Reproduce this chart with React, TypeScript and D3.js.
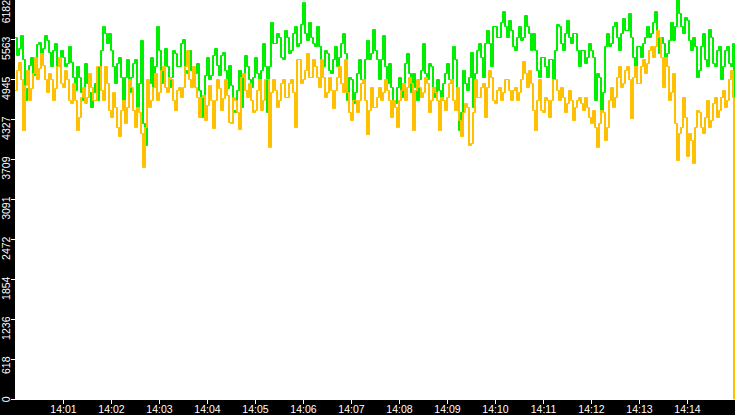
import { useEffect, useRef } from 'react';
import * as d3 from 'd3';

const WIDTH = 735;
const HEIGHT = 415;

// time axis: 14:00 - 14:15, one reading every 2.5 s, last reading just before the end
const START = new Date(2024, 0, 1, 14, 0, 0);
const END = new Date(2024, 0, 1, 14, 15, 0);
const SAMPLE_MS = 2500;
const LAST_SAMPLE_SECOND = 899;

const greenValues = [
    5587, 5324, 5432, 5633, 5247, 4628, 4814, 5169, 5293, 5015, 5169, 5479, 5525, 5247, 5432, 5633, 5556, 5370, 5139, 5401,
    5509, 5139, 5247, 5401, 5293, 5139, 5200, 5448, 5216, 4984, 4783, 5139, 4984, 4737, 4628, 5200, 4891, 4737, 4520, 4737,
    4891, 4628, 5139, 5401, 5772, 5664, 5509, 5664, 5401, 5139, 4891, 5200, 5293, 4984, 4582, 4984, 5247, 4737, 4984, 5200,
    5247, 4474, 4891, 5556, 4273, 3933, 4628, 4891, 5293, 4829, 5139, 5757, 5401, 4891, 5092, 5432, 5139, 4829, 4984, 5401,
    5355, 5139, 5139, 5509, 5571, 5092, 5046, 5401, 5092, 4938, 5046, 5200, 4783, 4366, 4706, 5015, 5278, 4938, 5015, 5324,
    5432, 5169, 5015, 5324, 5370, 5092, 4814, 5169, 4860, 4474, 4428, 4783, 5092, 4520, 4984, 5324, 5139, 4938, 4829, 4984,
    5278, 5046, 4938, 5092, 5509, 5139, 4428, 5139, 5819, 5509, 5509, 5664, 5602, 5293, 5247, 5710, 5602, 5355, 5401, 5664,
    5757, 5448, 5509, 5788, 6128, 5664, 5556, 5819, 5602, 5509, 5448, 5757, 5448, 5200, 5139, 5401, 5355, 5092, 5046, 5247,
    5448, 5139, 5293, 5509, 5664, 5355, 4628, 4984, 4938, 4582, 4737, 5046, 5247, 4938, 4891, 5247, 5556, 5247, 5355, 5726,
    5401, 5247, 4938, 5247, 5633, 5139, 4891, 5200, 4829, 4628, 4582, 4829, 4984, 4675, 4891, 5200, 5355, 5046, 4737, 5046,
    4829, 4628, 4938, 5092, 5509, 5046, 4938, 5200, 5139, 4829, 4675, 4938, 4783, 4628, 4891, 5046, 5200, 4938, 4891, 5463,
    5247, 4628, 4165, 4428, 5092, 4891, 4783, 4984, 5370, 4520, 5046, 5401, 5509, 5293, 4984, 5509, 5710, 5509, 5139, 5757,
    5757, 5602, 5602, 5819, 5989, 5757, 5602, 5865, 5710, 5448, 5401, 5602, 5757, 5556, 5602, 5927, 5757, 5664, 5401, 5664,
    5401, 5092, 4984, 5293, 5293, 5139, 4984, 5247, 5247, 4938, 5401, 5788, 5757, 5509, 5401, 5664, 5865, 5602, 5509, 5664,
    5664, 5401, 5139, 5401, 5401, 5200, 5293, 5509, 5401, 5293, 4628, 5046, 4984, 4474, 4737, 5448, 5664, 5448, 5509, 5757,
    5819, 5602, 5401, 5664, 5896, 5710, 5710, 5973, 5602, 5293, 5139, 5448, 5448, 5293, 5509, 5602, 5757, 5602, 5664, 5819,
    5989, 5664, 5355, 5602, 5509, 5247, 5355, 5556, 5819, 5556, 5757, 6182, 5973, 5757, 5664, 5911, 5865, 5556, 5401, 5602,
    5448, 4984, 5092, 5448, 5664, 5247, 5139, 5726, 5602, 5200, 5139, 5401, 5448, 4938, 5139, 5401, 5448, 5200, 5139, 5509,
    2650,
];

const orangeValues = [
    4783, 5092, 5216, 4938, 4165, 4860, 5092, 4628, 4814, 5046, 5293, 4938, 5123, 5355, 5169, 4938, 4737, 5046, 4938, 4628,
    4814, 5139, 5293, 4891, 4829, 5092, 4938, 4628, 4582, 4891, 4628, 4165, 4366, 4675, 4829, 4582, 4675, 5046, 4829, 4628,
    4628, 5139, 5139, 4783, 4628, 5139, 4891, 4474, 4366, 4737, 4520, 4211, 4057, 4474, 4628, 4273, 4520, 4938, 4829, 4474,
    4211, 4520, 4428, 4118, 3578, 4211, 4938, 4520, 4628, 4829, 5046, 4628, 4737, 5092, 5139, 4829, 4737, 4984, 4938, 4628,
    4474, 4783, 4829, 4675, 4829, 5139, 5401, 4938, 4829, 5139, 4829, 4675, 4366, 4675, 4706, 4319, 4551, 4860, 4628, 4196,
    4628, 4938, 4814, 4474, 4659, 4938, 4706, 4288, 4273, 4675, 4628, 4428, 4180, 4984, 5046, 4783, 4675, 4891, 4628, 4428,
    4474, 4783, 4938, 4474, 4628, 4938, 4938, 3902, 4737, 4938, 4783, 4520, 4628, 4891, 4938, 4675, 4675, 4891, 4938, 4737,
    4211, 5247, 5247, 4891, 4938, 5092, 5355, 4984, 4984, 5247, 5139, 4984, 4829, 5247, 4984, 4675, 4737, 4984, 4783, 4505,
    4783, 4984, 5139, 4891, 4737, 5247, 4737, 4428, 4319, 4628, 4628, 4428, 4628, 4891, 4938, 4628, 4088, 4474, 4829, 4520,
    4520, 4675, 4829, 4628, 4737, 4938, 4783, 4628, 4366, 4628, 4520, 4211, 4628, 4783, 4891, 4628, 4829, 4984, 4891, 4165,
    4783, 4938, 4829, 4675, 4737, 4984, 4891, 4428, 4628, 4829, 4737, 4628, 4165, 4675, 4628, 4474, 4675, 4891, 4938, 4628,
    4474, 4829, 4319, 4057, 4428, 4582, 4520, 3933, 3964, 4428, 4938, 4675, 4675, 4829, 4891, 4366, 4829, 5092, 4984, 4628,
    4582, 4783, 4829, 4628, 4737, 4938, 4938, 4783, 4628, 4783, 4829, 4628, 4737, 4938, 5231, 5046, 4829, 5092, 4891, 4474,
    4165, 4628, 4938, 4474, 4428, 4675, 4628, 4366, 4628, 4938, 4938, 4783, 4628, 4829, 4675, 4428, 4582, 4783, 4628, 4319,
    4520, 4628, 4675, 4582, 4474, 4675, 4520, 4366, 4273, 4474, 4211, 3902, 4273, 4474, 4428, 4010, 4211, 4628, 4829, 4520,
    4675, 4984, 5139, 4829, 4891, 5092, 5139, 4938, 4350, 4984, 5139, 4891, 4891, 5139, 5247, 5046, 5200, 5401, 5448, 5293,
    5448, 5710, 5602, 5293, 4829, 5293, 5139, 4628, 4737, 5046, 4273, 3701, 4118, 4211, 4675, 4366, 3748, 4118, 4010, 3655,
    4211, 4474, 4428, 4211, 4118, 4366, 4628, 4211, 4319, 4582, 4675, 4366, 4474, 4675, 4783, 4520, 4628, 4938, 5092, 4675,
    0,
];

const yTickLabels = ['0', '618', '1236', '1854', '2472', '3091', '3709', '4327', '4945', '5563', '6182'];
const xTickLabels = ['14:01', '14:02', '14:03', '14:04', '14:05', '14:06', '14:07', '14:08', '14:09', '14:10', '14:11', '14:12', '14:13', '14:14'];

const GREEN = '#00ee00';
const ORANGE = '#ffc000';
const FONT = "'Liberation Sans', Arial, sans-serif";

function toPoints(values: number[]) {
    return values.map((v, i) => ({
        t: i === values.length - 1
            ? new Date(START.getTime() + LAST_SAMPLE_SECOND * 1000)
            : new Date(START.getTime() + i * SAMPLE_MS),
        v,
    }));
}

function TrafficChart() {
    const svgRef = useRef<SVGSVGElement>(null);

    useEffect(() => {
        if (!svgRef.current) return;
        const svg = d3.select(svgRef.current);
        svg.selectAll('*').remove();

        const margin = { left: 15, bottom: 15 };
        const plotBottom = HEIGHT - margin.bottom;

        const x = d3.scaleTime().domain([START, END]).range([margin.left, WIDTH]);
        const yMax = +yTickLabels[yTickLabels.length - 1];
        const y = d3.scaleLinear().domain([0, yMax]).range([plotBottom - 0.5, -0.5]);

        svg.append('rect').attr('width', WIDTH).attr('height', HEIGHT).attr('fill', '#fff');

        // strokes snapped to pixel centres; each series is drawn twice, 1px apart,
        // so that vertical strokes are 2px wide and horizontal runs stay 1px tall
        const line = d3.line<{ t: Date; v: number }>()
            .x(d => Math.round(x(d.t)) - 0.5)
            .y(d => Math.round(y(d.v) - 0.5) + 0.5)
            .curve(d3.curveStepAfter);

        [[greenValues, GREEN], [orangeValues, ORANGE]].forEach(([vals, color]) => {
            const pts = toPoints(vals as number[]);
            [0, 1].forEach(dx => {
                svg.append('path')
                    .datum(pts)
                    .attr('d', line)
                    .attr('transform', `translate(${dx},0)`)
                    .attr('fill', 'none')
                    .attr('stroke', color as string)
                    .attr('stroke-width', 1);
            });
        });

        // axis bands
        svg.append('rect').attr('x', 0).attr('y', 0).attr('width', margin.left).attr('height', HEIGHT).attr('fill', '#000');
        svg.append('rect').attr('x', 0).attr('y', plotBottom).attr('width', WIDTH).attr('height', margin.bottom).attr('fill', '#000');

        // y axis
        const yAxis = svg.append('g');
        yTickLabels.forEach(label => {
            const yy = y(+label);
            yAxis.append('rect')
                .attr('x', 11).attr('y', Math.floor(yy)).attr('width', 4).attr('height', 1)
                .attr('fill', '#fff');
            yAxis.append('text')
                .attr('transform', `translate(10,${Math.max(yy - 3, 0)}) rotate(-90)`)
                .attr('text-anchor', 'end')
                .attr('fill', '#fff')
                .style('font-family', FONT)
                .style('font-size', '10.5px')
                .text(label);
        });

        // x axis
        const xAxis = svg.append('g');
        xTickLabels.forEach(label => {
            const [hh, mm] = label.split(':').map(Number);
            const xx = Math.round(x(new Date(2024, 0, 1, hh, mm, 0)));
            xAxis.append('rect')
                .attr('x', xx).attr('y', plotBottom).attr('width', 1).attr('height', 4)
                .attr('fill', '#fff');
            xAxis.append('text')
                .attr('x', xx + 0.5).attr('y', HEIGHT - 2)
                .attr('text-anchor', 'middle')
                .attr('fill', '#fff')
                .style('font-family', FONT)
                .style('font-size', '10.5px')
                .text(label);
        });
    }, []);

    return (
        <svg
            ref={svgRef}
            width={WIDTH}
            height={HEIGHT}
            style={{ position: 'absolute', left: 0, top: 0, display: 'block' }}
        />
    );
}

export default function App() {
    return <TrafficChart />;
}
